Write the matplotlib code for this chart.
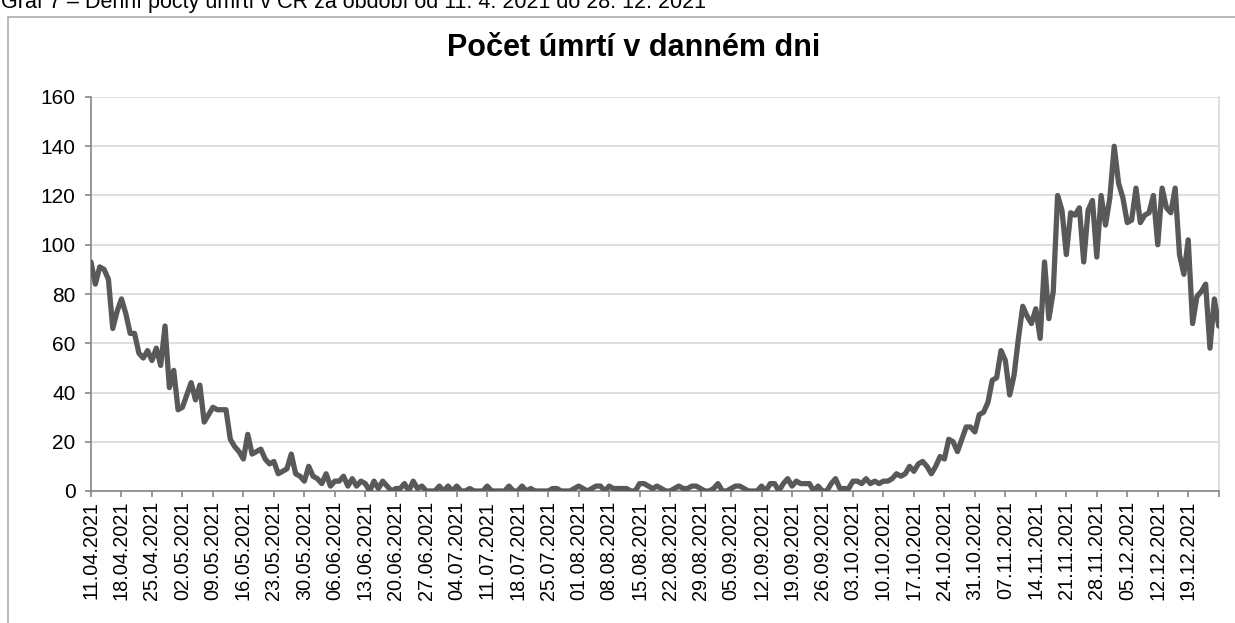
import matplotlib
matplotlib.use("Agg")
import matplotlib.pyplot as plt
from matplotlib.patches import Rectangle
import pandas as pd

plt.rcParams['font.family'] = ['Liberation Sans', 'DejaVu Sans']

caption = "Graf 7 – Denní počty úmrtí v ČR za období od 11. 4. 2021 do 28. 12. 2021"
title = "Počet úmrtí v danném dni"
start_date = "2021-04-11"
deaths = [
    93, 84, 91, 90, 86, 66, 73, 78, 72, 64,
    64, 56, 54, 57, 53, 58, 51, 67, 42, 49,
    33, 34, 39, 44, 37, 43, 28, 31, 34, 33,
    33, 33, 21, 18, 16, 13, 23, 15, 16, 17,
    13, 11, 12, 7, 8, 9, 15, 7, 6, 4,
    10, 6, 5, 3, 7, 2, 4, 4, 6, 2,
    5, 2, 4, 3, 0, 4, 1, 4, 2, 0,
    1, 1, 3, 0, 4, 1, 2, 0, 0, 0,
    2, 0, 2, 0, 2, 0, 0, 1, 0, 0,
    0, 2, 0, 0, 0, 0, 2, 0, 0, 2,
    0, 1, 0, 0, 0, 0, 1, 1, 0, 0,
    0, 1, 2, 1, 0, 1, 2, 2, 0, 2,
    1, 1, 1, 1, 0, 0, 3, 3, 2, 1,
    2, 1, 0, 0, 1, 2, 1, 1, 2, 2,
    1, 0, 0, 1, 3, 0, 0, 1, 2, 2,
    1, 0, 0, 0, 2, 0, 3, 3, 0, 3,
    5, 2, 4, 3, 3, 3, 0, 2, 0, 0,
    3, 5, 1, 1, 1, 4, 4, 3, 5, 3,
    4, 3, 4, 4, 5, 7, 6, 7, 10, 8,
    11, 12, 10, 7, 10, 14, 13, 21, 20, 16,
    21, 26, 26, 24, 31, 32, 36, 45, 46, 57,
    53, 39, 47, 62, 75, 71, 68, 74, 62, 93,
    70, 81, 120, 114, 96, 113, 112, 115, 93, 114,
    118, 95, 120, 108, 119, 140, 125, 119, 109, 110,
    123, 109, 112, 113, 120, 100, 123, 115, 113, 123,
    96, 88, 102, 68, 79, 81, 84, 58, 78, 67,
]
y_ticks = [0, 20, 40, 60, 80, 100, 120, 140, 160]
tick_step_days = 7

dates = pd.date_range(start_date, periods=len(deaths), freq="D")

W, H = 1235, 623
fig = plt.figure(figsize=(W / 100, H / 100), dpi=100)

# chart frame (extends past right and bottom edges, as in the reference)
fig.patches.append(Rectangle((8 / W, -0.2), 1.2, 1.2 - 17 / H,
                             transform=fig.transFigure, fill=False,
                             edgecolor="#a6a6a6", linewidth=1.1, zorder=0))
fig.text(1 / W, 1 - 8 / H, caption, fontsize=15.5, va="baseline", ha="left", color="#000000")

ax = fig.add_axes([91 / W, 1 - 491 / H, (1218.7 - 91) / W, (491 - 97) / H])
ax.plot(dates, deaths, color="#595959", linewidth=3.8, solid_joinstyle="round",
        solid_capstyle="round", zorder=3)

ax.set_ylim(0, 160)
ax.set_yticks(y_ticks)
ax.set_xlim(dates[0], dates[-1])
tick_dates = dates[::tick_step_days]
ax.set_xticks(tick_dates)
labels = [d.strftime("%d.%m.%Y") for d in tick_dates]
if tick_dates[-1] == dates[-1]:
    labels[-1] = ""
ax.set_xticklabels(labels, rotation=90, fontsize=14.3)

ax.grid(axis="y", color="#d9d9d9", linewidth=1.2, zorder=0)
ax.set_axisbelow(True)
ax.spines["top"].set_visible(False)
ax.spines["right"].set_color("#d9d9d9")
ax.spines["right"].set_linewidth(1.2)
for s in ["left", "bottom"]:
    ax.spines[s].set_color("#868686")
    ax.spines[s].set_linewidth(1.2)
ax.tick_params(axis="both", direction="out", color="#868686", width=1.2, length=4,
               labelcolor="#000000")
ax.tick_params(axis="y", pad=7, labelsize=15)
ax.tick_params(axis="x", pad=3)

fig.text(634 / W, 1 - 48 / H, title, fontsize=22, fontweight="bold", ha="center", va="center")

fig.savefig("out.png", dpi=100)
